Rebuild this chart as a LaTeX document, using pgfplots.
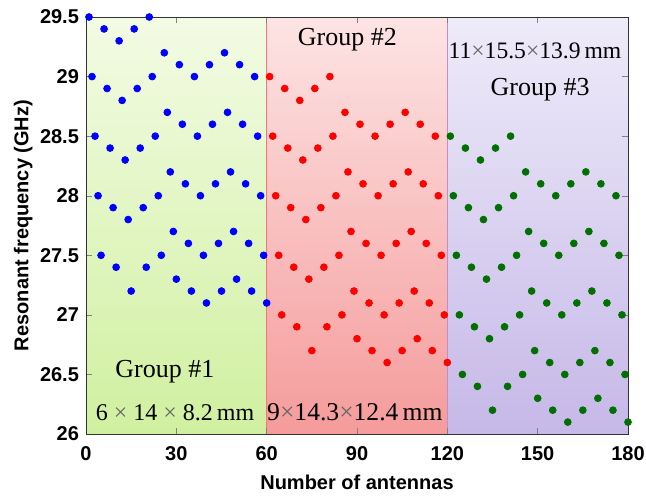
\documentclass[border=0pt]{standalone}
\usepackage{pgfplots}
\pgfplotsset{compat=1.18}
\usepackage{fontspec}
\setmainfont{Liberation Sans}
\newfontfamily\seriffont{Liberation Serif}
\definecolor{gTop}{RGB}{243,251,228}
\definecolor{gBot}{RGB}{208,240,160}
\definecolor{rTop}{RGB}{253,228,228}
\definecolor{rBot}{RGB}{245,155,155}
\definecolor{pTop}{RGB}{238,235,249}
\definecolor{pBot}{RGB}{198,184,232}
\definecolor{dgreen}{RGB}{0,112,0}
\newcommand{\tm}{{\color{black!60}×}}
\begin{document}
\begin{tikzpicture}
\begin{axis}[
  scale only axis, width=271pt, height=208.5pt,
  xmin=0, xmax=180, ymin=26, ymax=29.5,
  xtick={0,30,60,90,120,150,180},
  ytick={26,26.5,27,27.5,28,28.5,29,29.5},
  yticklabels={26,26.5,27,27.5,28,28.5,29,29.5},
  xtick pos=both, ytick pos=both, tick align=inside,
  major tick length=3pt,
  /pgf/number format/assume math mode=true,
  tick label style={font=\bfseries\fontsize{10}{12}\selectfont},
  xticklabel style={yshift=-2.5pt},
  label style={font=\bfseries\fontsize{10}{12}\selectfont},
  xlabel={Number of antennas},
  ylabel={Resonant frequency (GHz)},
  xlabel style={at={(axis description cs:0.5,-0.115)}, anchor=center},
  ylabel style={at={(axis description cs:-0.116,0.5)}, anchor=center},
  clip=false, axis on top,
  axis line style={black!80},
]
\path[top color=gTop, bottom color=gBot] (axis cs:0,26) rectangle (axis cs:60,29.5);
\path[top color=rTop, bottom color=rBot] (axis cs:60,26) rectangle (axis cs:120,29.5);
\path[top color=pTop, bottom color=pBot] (axis cs:120,26) rectangle (axis cs:180,29.5);
\draw[red!55, line width=0.5pt] (axis cs:60,26) -- (axis cs:60,29.5);
\draw[violet!45, line width=0.5pt] (axis cs:120,26) -- (axis cs:120,29.5);

% Group 1
\addplot[only marks, mark=*, mark size=1.7pt, color=blue] coordinates {
(1,29.5)(6,29.4)(11,29.3)(16,29.4)(21,29.5)(26,29.2)(31,29.1)(36,29.0)(41,29.1)(46,29.2)(51,29.1)(56,29.0)
(2,29.0)(7,28.9)(12,28.8)(17,28.9)(22,29.0)(27,28.7)(32,28.6)(37,28.5)(42,28.6)(47,28.7)(52,28.6)(57,28.5)
(3,28.5)(8,28.4)(13,28.3)(18,28.4)(23,28.5)(28,28.2)(33,28.1)(38,28.0)(43,28.1)(48,28.2)(53,28.1)(58,28.0)
(4,28.0)(9,27.9)(14,27.8)(19,27.9)(24,28.0)(29,27.7)(34,27.6)(39,27.5)(44,27.6)(49,27.7)(54,27.6)(59,27.5)
(5,27.5)(10,27.4)(15,27.2)(20,27.4)(25,27.5)(30,27.3)(35,27.2)(40,27.1)(45,27.2)(50,27.3)(55,27.2)(60,27.1)
};
% Group 2
\addplot[only marks, mark=*, mark size=1.7pt, color=red] coordinates {
(61,29.0)(66,28.9)(71,28.8)(76,28.9)(81,29.0)(86,28.7)(91,28.6)(96,28.5)(101,28.6)(106,28.7)(111,28.6)(116,28.5)
(62,28.5)(67,28.4)(72,28.3)(77,28.4)(82,28.5)(87,28.2)(92,28.1)(97,28.0)(102,28.1)(107,28.2)(112,28.1)(117,28.0)
(63,28.0)(68,27.9)(73,27.8)(78,27.9)(83,28.0)(88,27.7)(93,27.6)(98,27.5)(103,27.6)(108,27.7)(113,27.6)(118,27.5)
(64,27.5)(69,27.4)(74,27.3)(79,27.4)(84,27.5)(89,27.2)(94,27.1)(99,27.0)(104,27.1)(109,27.2)(114,27.1)(119,27.0)
(65,27.0)(70,26.9)(75,26.7)(80,26.9)(85,27.0)(90,26.8)(95,26.7)(100,26.6)(105,26.7)(110,26.8)(115,26.7)(120,26.6)
};
% Group 3
\addplot[only marks, mark=*, mark size=1.7pt, color=dgreen] coordinates {
(121,28.5)(126,28.4)(131,28.3)(136,28.4)(141,28.5)(146,28.2)(151,28.1)(156,28.0)(161,28.1)(166,28.2)(171,28.1)(176,28.0)
(122,28.0)(127,27.9)(132,27.8)(137,27.9)(142,28.0)(147,27.7)(152,27.6)(157,27.5)(162,27.6)(167,27.7)(172,27.6)(177,27.5)
(123,27.5)(128,27.4)(133,27.3)(138,27.4)(143,27.5)(148,27.2)(153,27.1)(158,27.0)(163,27.1)(168,27.2)(173,27.1)(178,27.0)
(124,27.0)(129,26.9)(134,26.8)(139,26.9)(144,27.0)(149,26.7)(154,26.6)(159,26.5)(164,26.6)(169,26.7)(174,26.6)(179,26.5)
(125,26.5)(130,26.4)(135,26.2)(140,26.4)(145,26.5)(150,26.3)(155,26.2)(160,26.1)(165,26.2)(170,26.3)(175,26.2)(180,26.1)
};

\node[font=\seriffont\fontsize{13}{15}\selectfont] at (axis cs:26.2,26.52) {Group \#1};
\node[font=\seriffont\fontsize{12}{14}\selectfont] at (axis cs:29.6,26.18) {6 \tm{} 14 \tm{} 8.2\,mm};
\node[font=\seriffont\fontsize{13}{15}\selectfont] at (axis cs:86.8,29.31) {Group \#2};
\node[font=\seriffont\fontsize{12.8}{15}\selectfont] at (axis cs:89.3,26.18) {9\tm14.3\tm12.4\,mm};
\node[font=\seriffont\fontsize{11.8}{14}\selectfont] at (axis cs:149.1,29.22) {11\tm15.5\tm13.9\,mm};
\node[font=\seriffont\fontsize{13}{15}\selectfont] at (axis cs:150.8,28.89) {Group \#3};
\end{axis}
\pgfresetboundingbox
\path[use as bounding box] (-43pt,-30.5pt) rectangle (280pt,217pt);
\end{tikzpicture}
\end{document}
